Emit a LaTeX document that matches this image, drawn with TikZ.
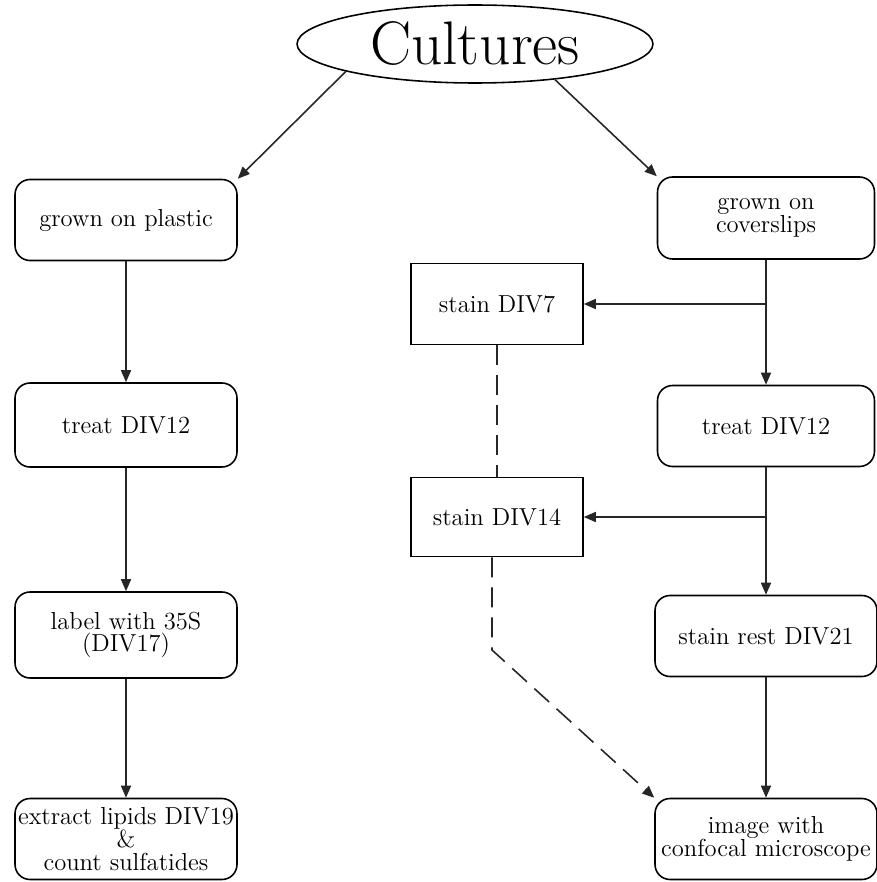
\documentclass[tikz,border=0pt]{standalone}
\usepackage{tikz}
\usetikzlibrary{arrows.meta,shapes.geometric,positioning}

\begin{document}
\begin{tikzpicture}[
    x=0.02cm, y=-0.02cm,
    rbox/.style={draw, rounded corners=0.3cm, line width=0.9pt, align=center, inner sep=1pt,
        font=\fontsize{14}{13}\selectfont, minimum width=4.44cm, minimum height=1.62cm},
    sbox/.style={draw, line width=0.9pt, align=center, font=\fontsize{14}{13}\selectfont,
        minimum width=3.44cm, minimum height=1.6cm},
    arr/.style={-{Triangle[length=2.4mm,width=2mm]}, line width=0.9pt, black!85},
    dasharr/.style={arr, dash pattern=on 4mm off 2mm}
]
\useasboundingbox (0,0) rectangle (876,882);

\node[draw, ellipse, line width=0.9pt, inner sep=0pt, minimum width=7.12cm, minimum height=1.56cm,
    font=\fontsize{35}{40}\selectfont] (cult) at (475,44) {Cultures};

% left column
\node[rbox] (gp) at (126,220) {grown on plastic};
\node[rbox, minimum height=1.68cm] (tl) at (126,425) {treat DIV12};
\node[rbox, minimum height=1.72cm] (lb) at (126,635) {label with 35S\\(DIV17)};
\node[rbox] (ex) at (126,839) {extract lipids DIV19\\\&\\count sulfatides};

% right column
\node[rbox, minimum width=4.34cm, minimum height=1.64cm] (gc) at (766,218) {grown on\\coverslips};
\node[rbox, minimum width=4.34cm] (tr) at (766,426) {treat DIV12};
\node[rbox] (sr) at (766,636) {stain rest DIV21};
\node[rbox] (im) at (766,839) {image with\\confocal microscope};

% stain boxes
\node[sbox, minimum height=1.62cm] (sd7) at (497,304) {stain DIV7};
\node[sbox, minimum height=1.58cm] (sd14) at (497,517) {stain DIV14};
\coordinate (bend) at (492,650);

\draw[arr] (cult.192) -- (gp.north east);
\draw[arr] (cult.336) -- (gc.north west);

\draw[arr] (gp) -- (tl);
\draw[arr] (tl) -- (lb);
\draw[arr] (lb) -- (ex);

\draw[arr] (gc) -- (tr);
\draw[arr] (tr) -- (sr);
\draw[arr] (sr) -- (im);
\draw[arr] (gc.south |- sd7.east) -- (sd7.east);
\draw[arr] (tr.south |- sd14.east) -- (sd14.east);

\draw[line width=0.9pt, black!85, dash pattern=on 4mm off 2mm] (sd7) -- (sd14);
\draw[dasharr] (sd14.south -| bend) -- (bend) -- (im.north west);
\end{tikzpicture}
\end{document}
